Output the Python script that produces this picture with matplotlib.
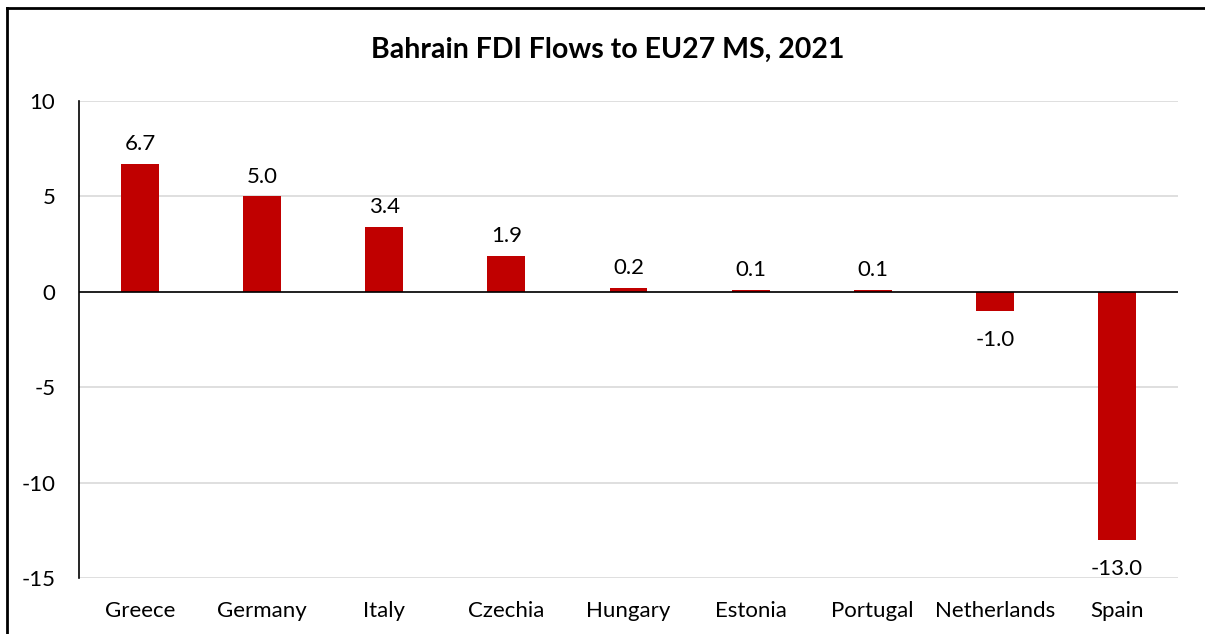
import matplotlib.pyplot as plt
from matplotlib.lines import Line2D

# Bahrain FDI flows to EU27 member states, 2021
countries = ["Greece", "Germany", "Italy", "Czechia", "Hungary",
             "Estonia", "Portugal", "Netherlands", "Spain"]
flows = [6.7, 5.0, 3.4, 1.9, 0.2, 0.1, 0.1, -1.0, -13.0]
yticks = [10, 5, 0, -5, -10, -15]

plt.rcParams['font.family'] = ['Lato', 'DejaVu Sans']

fig = plt.figure(figsize=(12.05, 6.34), dpi=100)
ax = fig.add_axes([79 / 1205, 1 - 578 / 634, (1178 - 79) / 1205, (578 - 101) / 634])

x = range(len(countries))
bars = ax.bar(x, flows, width=0.31, color="#C00000", zorder=3)

ax.set_xlim(-0.5, len(countries) - 0.5)
ax.set_ylim(-15, 10)
ax.set_yticks(yticks)
ax.set_yticklabels([str(t) for t in yticks], fontsize=16)
ax.set_xticks(list(x))
ax.set_xticklabels(countries, fontsize=16)
ax.tick_params(axis="y", length=0, pad=17)
ax.tick_params(axis="x", length=0, pad=16.5)

ax.grid(axis="y", color="#D9D9D9", linewidth=1.2, zorder=0)
for side in ["top", "right", "bottom"]:
    ax.spines[side].set_visible(False)
ax.spines["left"].set_color("black")
ax.spines["left"].set_linewidth(1.2)
ax.axhline(0, color="black", linewidth=1.2, zorder=4)

# value labels
for xi, v in zip(x, flows):
    if v >= 0:
        ax.annotate(f"{v:.1f}", (xi, v), xytext=(0, 7), textcoords="offset points",
                    ha="center", va="bottom", fontsize=16)
    else:
        ax.annotate(f"{v:.1f}", (xi, v), xytext=(0, -13.5), textcoords="offset points",
                    ha="center", va="top", fontsize=16)

fig.text(608 / 1205, 1 - 50 / 634, "Bahrain FDI Flows to EU27 MS, 2021",
         ha="center", va="center", fontsize=20.5, fontweight="bold")

# outer frame (top and left edges)
fig.add_artist(Line2D([7 / 1205, 1], [1 - 8 / 634, 1 - 8 / 634], color="black", linewidth=2))
fig.add_artist(Line2D([7 / 1205, 7 / 1205], [0, 1 - 8 / 634], color="black", linewidth=2))

fig.savefig("out.png", dpi=100)
